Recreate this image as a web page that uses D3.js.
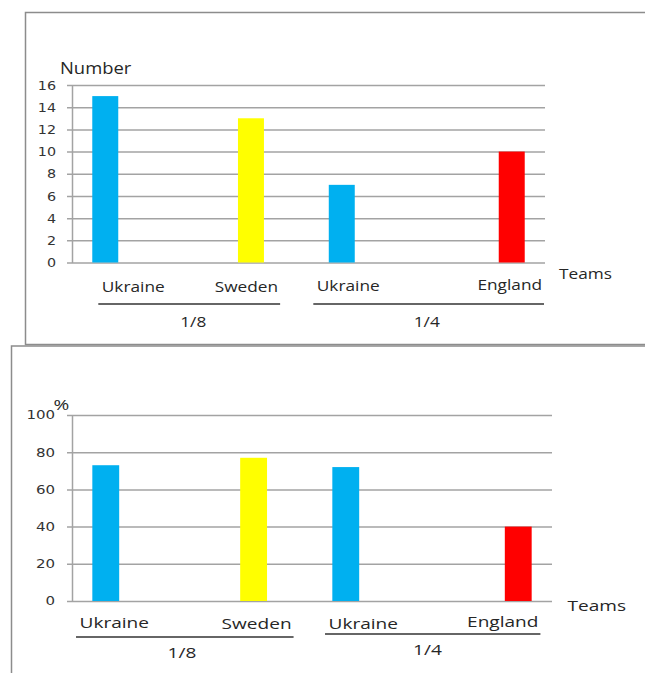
<!DOCTYPE html>
<html><head><meta charset="utf-8">
<script src="https://cdn.jsdelivr.net/npm/d3@7"></script>
<style>
html,body{margin:0;padding:0;background:#fff;}
svg{display:block;}
</style></head>
<body>
<svg id="chart" width="645" height="673"></svg>
<script>
// Ukraine's knockout matches: round of 16 (1/8) and quarter-final (1/4)
const stageLabels = ["1/8", "1/4"];
const stageOf = ["1/8", "1/8", "1/4", "1/4"];
const teamNames = ["Ukraine", "Sweden", "Ukraine", "England"];
const numberValues = [15, 13, 7, 10];
const percentValues = [73, 77, 72, 40];
const numberTicks = [0, 2, 4, 6, 8, 10, 12, 14, 16];
const percentTicks = [0, 20, 40, 60, 80, 100];

const teamColor = d3.scaleOrdinal()
  .domain(["Ukraine", "Sweden", "England"])
  .range(["#00b0f0", "#ffff00", "#ff0000"]);

// each stage is a cluster of 8 team slots; a team keeps its slot in every cluster
const clusterSlots = 8;
const slotOf = { Ukraine: 0, Sweden: 6, England: 7 };

const svg = d3.select("#chart");
const textFont = "'Open Sans', 'Noto Sans', sans-serif";
const textColor = "#262626";

// widen text horizontally by factor k
function stretch(sel, k) {
  sel.each(function () {
    const w = this.getComputedTextLength();
    d3.select(this).attr("textLength", w * k).attr("lengthAdjust", "spacingAndGlyphs");
  });
}

function drawPanel(values, ticks, L) {
  const g = svg.append("g");

  g.append("rect")
    .attr("x", L.frame[0]).attr("y", L.frame[1])
    .attr("width", L.frame[2]).attr("height", L.frame[3])
    .attr("fill", "none").attr("stroke", "#8c8c8c").attr("stroke-width", 1.5);

  const y = d3.scaleLinear().domain([0, d3.max(ticks)]).range([L.y0, L.y1]);
  const outer = d3.scaleBand().domain(stageLabels).range([L.x0, L.x1]);
  const inner = d3.scaleBand().domain(d3.range(clusterSlots))
    .range([0, outer.bandwidth()]).paddingInner(0).paddingOuter(0.87);
  const cx = i => outer(stageOf[i]) + inner(slotOf[teamNames[i]]) + inner.bandwidth() / 2;
  const bw = inner.bandwidth() * L.barScale;

  // value axis with gridlines
  const axis = g.append("g")
    .attr("transform", `translate(${L.x0},0)`)
    .call(d3.axisLeft(y).tickValues(ticks).tickSize(5).tickSizeOuter(0).tickPadding(L.tickPad))
    .attr("font-family", null).attr("font-size", null);
  axis.select(".domain").attr("stroke", "#a3a3a3").attr("stroke-width", 1.5);
  axis.selectAll(".tick line")
    .attr("x1", -5).attr("x2", L.x1 - L.x0)
    .attr("stroke", "#a3a3a3").attr("stroke-width", 1.5);
  axis.selectAll(".tick text")
    .attr("font-family", "'DejaVu Sans', Verdana, sans-serif")
    .attr("font-size", L.tickFont).attr("fill", "#333")
    .call(stretch, L.tickStretch);

  // bars
  g.selectAll("rect.bar").data(values).join("rect")
    .attr("class", "bar")
    .attr("x", (d, i) => cx(i) - bw / 2)
    .attr("width", bw)
    .attr("y", d => y(d))
    .attr("height", d => y(0) - y(d))
    .attr("fill", (d, i) => teamColor(teamNames[i]));

  // value axis title
  g.append("text")
    .attr("x", L.title[0]).attr("y", L.title[1])
    .attr("font-family", textFont).attr("font-size", L.titleSize).attr("fill", textColor)
    .text(L.titleText).call(stretch, L.textStretch);

  // team labels
  const labels = g.selectAll("text.team").data(teamNames).join("text")
    .attr("class", "team")
    .attr("x", (d, i) => cx(i) + L.labelDx[i])
    .attr("y", (d, i) => L.labelY[i])
    .attr("text-anchor", "middle").attr("dominant-baseline", "central")
    .attr("font-family", textFont).attr("font-size", L.labelSize).attr("fill", textColor)
    .text(d => d)
    .call(stretch, L.textStretch);

  // underline each stage's labels, stage name beneath
  stageLabels.forEach((s, k) => {
    const boxes = labels.filter((d, i) => stageOf[i] === s).nodes().map(n => n.getBBox());
    const xa = d3.min(boxes, b => b.x) - 3.5;
    const xb = d3.max(boxes, b => b.x + b.width) + 2;
    g.append("line")
      .attr("x1", xa).attr("x2", xb)
      .attr("y1", L.ulineY[k]).attr("y2", L.ulineY[k])
      .attr("stroke", "#333").attr("stroke-width", 1.5);
    g.append("text")
      .attr("x", outer(s) + outer.bandwidth() / 2 + L.stageDx[k])
      .attr("y", L.stageY[k])
      .attr("text-anchor", "middle").attr("dominant-baseline", "central")
      .attr("font-family", textFont).attr("font-size", L.labelSize).attr("fill", textColor)
      .text(s).call(stretch, L.textStretch);
  });

  g.append("text")
    .attr("x", L.teams[0]).attr("y", L.teams[1])
    .attr("dominant-baseline", "central")
    .attr("font-family", textFont).attr("font-size", L.labelSize).attr("fill", textColor)
    .text("Teams").call(stretch, L.textStretch);
}

drawPanel(numberValues, numberTicks, {
  frame: [25.5, 12.5, 640, 332],
  x0: 72, x1: 545, y0: 262.5, y1: 85,
  barScale: 1.07,
  tickFont: 13, tickStretch: 1.1, tickPad: 11,
  titleText: "Number", title: [60, 74], titleSize: 16,
  labelSize: 15, textStretch: 1.15,
  labelDx: [28, -4.5, 6.5, -2], labelY: [286, 286, 285, 284],
  ulineY: [304, 304], stageDx: [3, 0], stageY: [321, 321],
  teams: [559, 273]
});

drawPanel(percentValues, percentTicks, {
  frame: [11.5, 346, 640, 340],
  x0: 72, x1: 552, y0: 601, y1: 415,
  barScale: 1.09,
  tickFont: 12, tickStretch: 1.25, tickPad: 12,
  titleText: "%", title: [53.5, 410], titleSize: 15,
  labelSize: 15, textStretch: 1.27,
  labelDx: [8.5, 3, 17.5, -15.5], labelY: [622, 623, 623, 621],
  ulineY: [637, 634], stageDx: [-10, -4.5], stageY: [652, 649],
  teams: [567.5, 605]
});
</script>
</body></html>
